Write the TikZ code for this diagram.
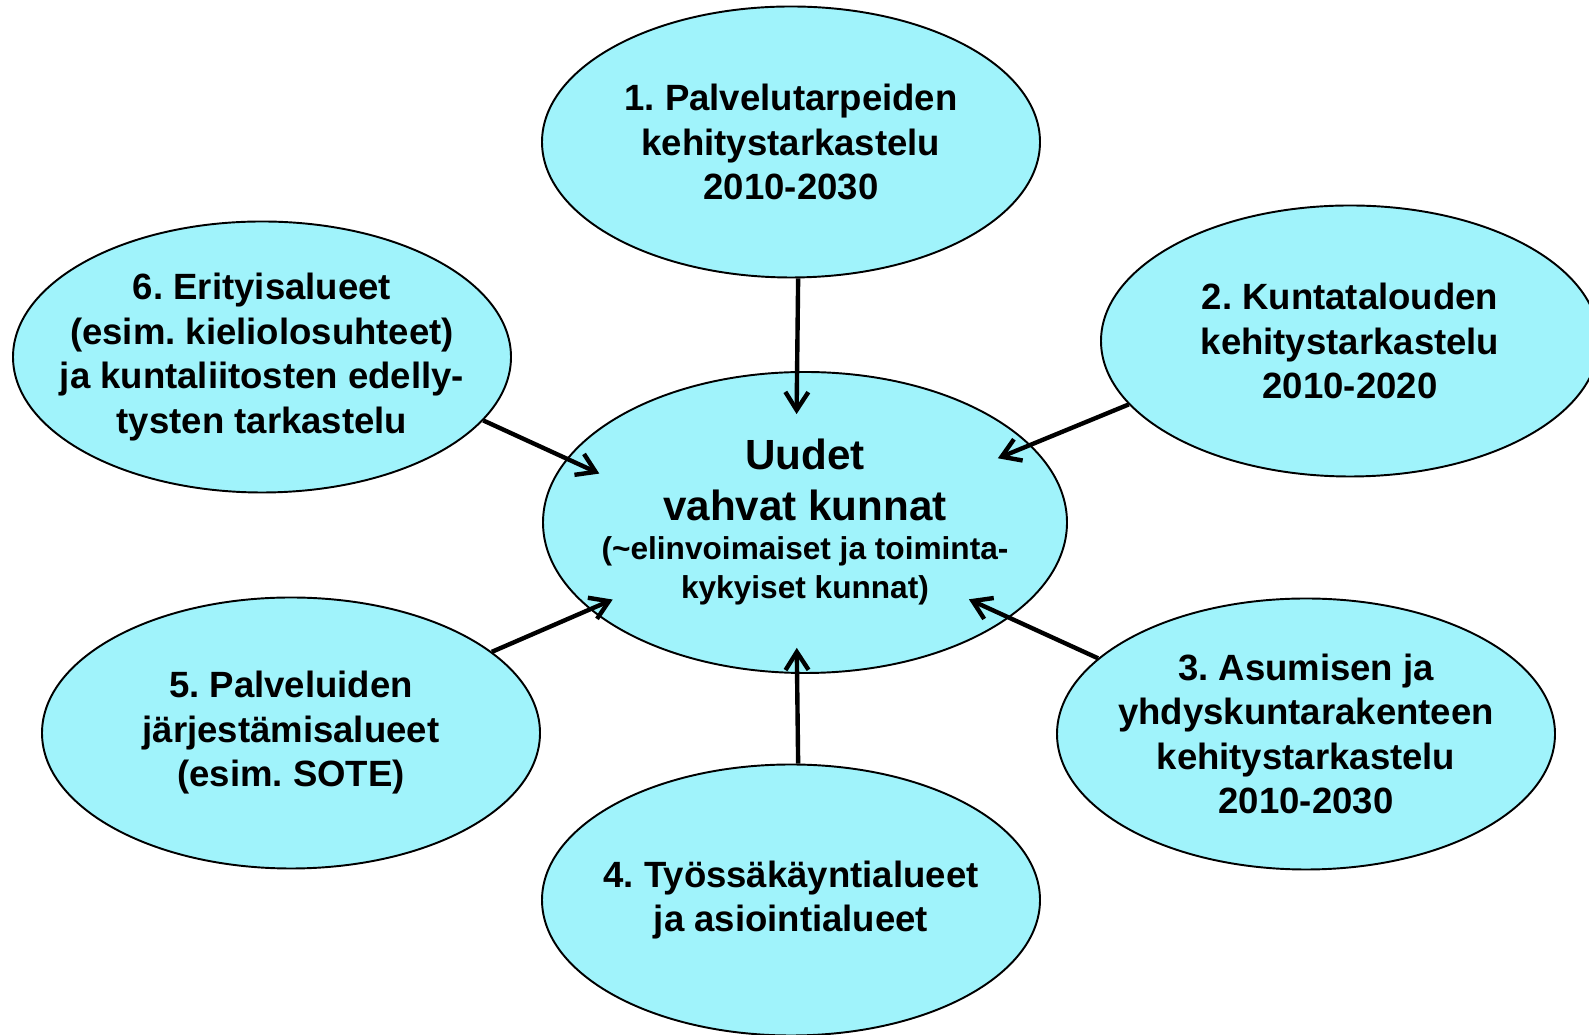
\documentclass[tikz,border=0pt]{standalone}
\usepackage{fontspec}
\setmainfont{Liberation Sans}
\usetikzlibrary{shapes.geometric,arrows.meta}
\definecolor{vaalea}{RGB}{160,243,251}
\begin{document}
\begin{tikzpicture}[>={Straight Barb[length=3.6mm,width=4.6mm]},
alue/.style={ellipse,draw,line width=1.1pt,fill=vaalea,minimum width=9.96cm,minimum height=5.42cm,inner sep=-1.2cm,align=center,font=\frenchspacing\bfseries\fontsize{20.8}{25.3}\selectfont},
keskus/.style={alue,minimum width=10.48cm,minimum height=6.02cm,font=\frenchspacing\bfseries\fontsize{18}{22.2}\selectfont},
nuoli/.style={->,line width=2.5pt}]
\path[use as bounding box,clip] (0,0) rectangle (31.78,20.70);
\node[keskus] (c) at (16.10,10.25) {{\fontsize{24}{29}\selectfont Uudet}\\[6.8pt]{\fontsize{24}{29}\selectfont vahvat kunnat}\\(\textasciitilde elinvoimaiset ja toiminta-\\kykyiset kunnat)};
\node[alue] (e1) at (15.82,17.86) {1. Palvelutarpeiden\\kehitystarkastelu\\2010-2030};
\node[alue] (e2) at (27.00,13.88) {2. Kuntatalouden\\kehitystarkastelu\\2010-2020};
\node[alue] (e3) at (26.12,6.02) {3. Asumisen ja\\yhdyskuntarakenteen\\kehitystarkastelu\\2010-2030};
\node[alue] (e4) at (15.82,2.70) {4. Työssäkäyntialueet\\ja asiointialueet};
\node[alue] (e5) at (5.82,6.04) {5. Palveluiden\\järjestämisalueet\\(esim. SOTE)};
\node[alue] (e6) at (5.24,13.56) {6. Erityisalueet\\(esim. kieliolosuhteet)\\ja kuntaliitosten edelly-\\tysten tarkastelu};
\draw[nuoli,shorten >=-0.86cm] (e1.273) -- (c.93);
\draw[nuoli,shorten >=-0.71cm] (e2.196) -- (c.19);
\draw[nuoli,shorten >=-0.89cm] (e3.160) -- (c.335);
\draw[nuoli,shorten >=-0.52cm] (e4.87) -- (c.267);
\draw[nuoli,shorten >=-0.50cm] (e5.22) -- (c.202);
\draw[nuoli,shorten >=-0.72cm] (e6.344) -- (c.165);
\end{tikzpicture}
\end{document}
